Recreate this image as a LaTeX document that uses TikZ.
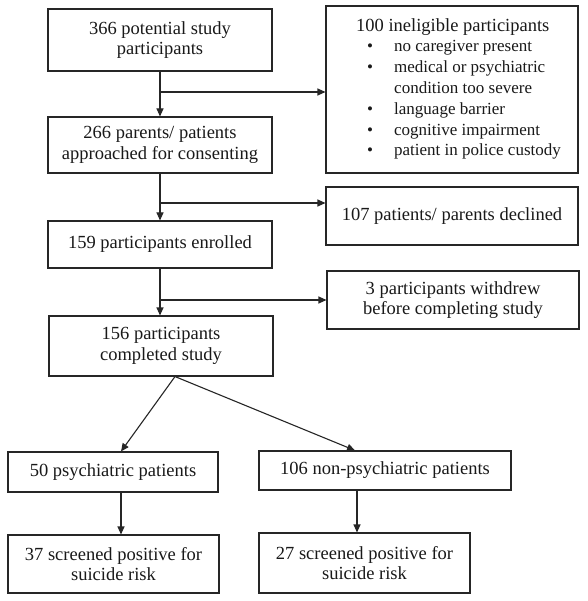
\documentclass[tikz,border=0pt]{standalone}
\usepackage{fontspec}
\setmainfont{Liberation Serif}
\usetikzlibrary{arrows.meta}
\newcommand\bitm[1]{{\fontsize{17}{20.8}\selectfont\makebox[28pt]{\textbullet}\hspace{10pt}#1}}
\newcommand\bcont[1]{{\fontsize{17}{20.8}\selectfont\hspace*{38pt}#1}}
\begin{document}
\begin{tikzpicture}[x=1pt,y=-1pt,
 txt/.style={font=\fontsize{18.5}{20.8}\selectfont, text=black!90},
 box/.style={txt, draw=black!85, line width=1.1pt, rectangle, align=center, inner sep=0pt},
 conn/.style={draw=black!85, line width=1.1pt},
 arr/.style={conn, -{Triangle[length=8pt,width=7pt]}}]
\useasboundingbox (0,0) rectangle (587,601);
\fill[white] (0,0) rectangle (587,601);
% left column
\node[box, minimum width=224pt, minimum height=62pt] (A) at (160,40) {366 potential study\\participants};
\node[box, minimum width=224pt, minimum height=56pt] (C) at (160,145) {266 parents/ patients\\approached for consenting};
\node[box, minimum width=224pt, minimum height=47pt] (E) at (160,244.5) {159 participants enrolled};
\node[box, minimum width=224pt, minimum height=60pt] (G) at (161,346) {156 participants\\completed study};
% right column
\node[box, minimum width=252pt, minimum height=167pt] (B) at (452,89.5) {};
\node[txt, align=left, inner sep=0pt, anchor=north west] (Bt) at (356,18) {100 ineligible participants\\
\bitm{no caregiver present}\\
\bitm{medical or psychiatric}\\
\bcont{condition too severe}\\
\bitm{language barrier}\\
\bitm{cognitive impairment}\\
\bitm{patient in police custody}};
\node[box, minimum width=252pt, minimum height=58pt] (D) at (452,216) {107 patients/ parents declined};
\node[box, minimum width=252pt, minimum height=58pt] (F) at (453,300) {3 participants withdrew\\before completing study};
% bottom
\node[box, minimum width=210pt, minimum height=40pt] (H) at (113,472) {50 psychiatric patients};
\node[box, minimum width=252pt, minimum height=39pt] (I) at (385,470.5) {106 non-psychiatric patients};
\node[box, minimum width=211pt, minimum height=58pt] (J) at (113.5,564) {37 screened positive for\\suicide risk};
\node[box, minimum width=211pt, minimum height=60pt] (K) at (364.5,563) {27 screened positive for\\suicide risk};
% connectors
\draw[arr] (A.south) -- (C.north);
\draw[arr] (C.south) -- (E.north);
\draw[arr] (E.south) -- (E.south |- G.north);
\coordinate (b1) at (160,92);
\coordinate (b2) at (160,203);
\coordinate (b3) at (160,300);
\draw[arr] (b1) -- (b1 -| B.west);
\draw[arr] (b2) -- (b2 -| D.west);
\draw[arr] (b3) -- (b3 -| F.west);
\draw[arr] ([xshift=14pt]G.south) -- ([xshift=8pt]H.north);
\draw[arr] ([xshift=14pt]G.south) -- ([xshift=-30pt]I.north);
\draw[arr] ([xshift=8pt]H.south) -- ([xshift=8pt]H.south |- J.north);
\draw[arr] ([xshift=-28pt]I.south) -- ([xshift=-28pt]I.south |- K.north);
\end{tikzpicture}
\end{document}
